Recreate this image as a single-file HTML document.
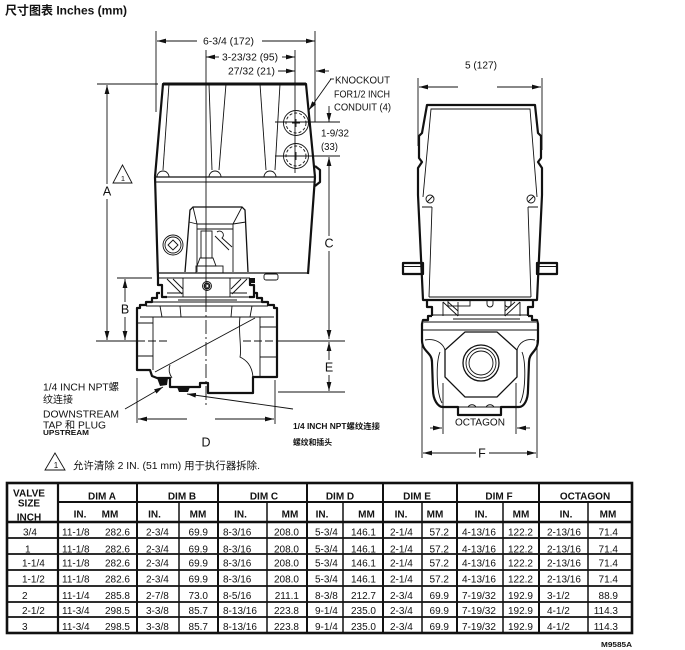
<!DOCTYPE html>
<html><head><meta charset="utf-8"><style>
html,body{margin:0;padding:0;background:#fff;}
svg{display:block;}
text{font-family:"Liberation Sans","Noto Sans CJK SC",sans-serif;fill:#111;}
.b{font-weight:bold;}
.t{stroke:#111;stroke-width:0.9;fill:none;}
.m{stroke:#111;stroke-width:1.3;fill:none;}
.k{stroke:#111;stroke-width:2.2;fill:none;stroke-linejoin:round;}
.d{stroke:#111;stroke-width:0.9;fill:none;}
</style></head><body>
<svg width="685" height="650" viewBox="0 0 685 650" xmlns="http://www.w3.org/2000/svg">
<defs>
<marker id="a" markerUnits="userSpaceOnUse" markerWidth="9" markerHeight="6" refX="9" refY="3" orient="auto" viewBox="0 0 9 6"><path d="M0,0.6 L9,3 L0,5.4z" fill="#111"/></marker>
</defs>

<!-- Title -->
<text x="5" y="14.5" class="b" font-size="12" textLength="122" lengthAdjust="spacingAndGlyphs">尺寸图表 Inches (mm)</text>

<!-- ===== LEFT DRAWING ===== -->
<!-- Top dimension lines -->
<line class="d" x1="156" y1="31" x2="156" y2="112"/>
<line class="d" x1="315" y1="31" x2="315" y2="122"/>
<line class="d" x1="197" y1="41" x2="157" y2="41" marker-end="url(#a)"/>
<line class="d" x1="262" y1="41" x2="315" y2="41" marker-end="url(#a)"/>
<text x="203" y="44.5" font-size="10" textLength="51" lengthAdjust="spacingAndGlyphs">6-3/4 (172)</text>
<line class="d" x1="295" y1="50" x2="295" y2="173"/>
<line class="d" x1="219" y1="57" x2="206" y2="57" marker-end="url(#a)"/>
<line class="d" x1="282" y1="57" x2="295" y2="57" marker-end="url(#a)"/>
<text x="222" y="60.5" font-size="10" textLength="56" lengthAdjust="spacingAndGlyphs">3-23/32 (95)</text>
<text x="228" y="74.5" font-size="10" textLength="47" lengthAdjust="spacingAndGlyphs">27/32 (21)</text>
<line class="d" x1="278" y1="71" x2="295" y2="71" marker-end="url(#a)"/>
<line class="d" x1="329" y1="71" x2="316" y2="71" marker-end="url(#a)"/>
<!-- knockout label -->
<text x="335" y="83.5" font-size="10" textLength="55" lengthAdjust="spacingAndGlyphs">KNOCKOUT</text>
<text x="334" y="97.5" font-size="10" textLength="56" lengthAdjust="spacingAndGlyphs">FOR1/2 INCH</text>
<text x="334" y="110.5" font-size="10" textLength="57" lengthAdjust="spacingAndGlyphs">CONDUIT (4)</text>
<line class="d" x1="334" y1="79" x2="330" y2="79"/>
<line class="d" x1="331" y1="79" x2="309" y2="110" marker-end="url(#a)"/>
<line class="d" x1="329" y1="106" x2="329" y2="122" marker-end="url(#a)"/>
<line class="d" x1="275" y1="122" x2="340" y2="122"/>
<line class="d" x1="275" y1="156" x2="340" y2="156"/>
<text x="321" y="136.5" font-size="10" textLength="28" lengthAdjust="spacingAndGlyphs">1-9/32</text>
<text x="321" y="150" font-size="10" textLength="17" lengthAdjust="spacingAndGlyphs">(33)</text>

<!-- Centerline vertical -->
<line class="t" x1="206" y1="50" x2="206" y2="298"/>
<line class="t" x1="206" y1="298" x2="206" y2="406" stroke-dasharray="14,3,2,3"/>

<!-- Actuator upper housing -->
<path class="k" d="M155,177 L163,84 L306,84 L315,177" stroke-width="2.4"/>
<line x1="163" y1="84" x2="306" y2="84" stroke="#111" stroke-width="3"/>
<line class="t" x1="169" y1="84" x2="163" y2="170"/>
<line class="t" x1="209" y1="84" x2="212" y2="170"/>
<line class="t" x1="226" y1="84" x2="219" y2="170"/>
<line class="t" x1="260" y1="84" x2="266" y2="170"/>
<line class="t" x1="280" y1="84" x2="275" y2="170"/>
<path class="t" d="M157,177 A6,6 0 0 1 169,177 M209,177 A6,6 0 0 1 221,177 M264,177 A6,6 0 0 1 276,177"/>
<!-- knockouts -->
<circle class="t" cx="296" cy="123" r="12.5"/>
<circle class="t" cx="296" cy="123" r="10" stroke-dasharray="3,2"/>
<circle class="t" cx="296" cy="156" r="12.5"/>
<circle class="t" cx="296" cy="156" r="10" stroke-dasharray="3,2"/>
<path class="t" d="M292,123 H300 M296,119 V127 M292,156 H300 M296,152 V160"/>
<!-- band -->
<line class="m" x1="155" y1="177" x2="315" y2="177"/>
<line class="t" x1="155.5" y1="182" x2="314.5" y2="182"/>
<path class="k" d="M315,166 L320,170 L320,182 L315,186"/>
<!-- lower box -->
<path class="k" d="M155,177 L158,278 M315,177 L308,274"/>
<line class="m" x1="158" y1="273" x2="308" y2="273"/>
<line class="t" x1="158" y1="278" x2="250" y2="278"/>
<rect x="264" y="274" width="14" height="6" rx="2" class="t"/>
<!-- window -->
<path class="m" d="M185,272 L190,210 L193,207 L242,207 L245,210 L248,272"/>
<path class="t" d="M193,207 L197,224 L233,224 L242,207 M197,224 V272 M233,224 V272 M189,222 L197,224 M246,222 L233,224 M197,229 H233"/>
<rect class="t" x="201" y="231" width="11" height="27"/>
<path class="t" d="M200,258 L213,258 L216,266 L197,266 Z" fill="#fff"/>
<rect class="t" x="196" y="266" width="27" height="7"/>
<path class="t" d="M217,232 A3.5,3.5 0 1 1 222,238 L232,247 M215,236 L229,250"/>
<!-- left knob -->
<circle class="t" cx="173" cy="245" r="10"/>
<circle class="t" cx="173" cy="245" r="8"/>
<path class="t" d="M173,240 L178,245 L173,250 L168,245 Z"/>

<!-- bracket -->
<path class="k" d="M158,278 L158,285 L162,285 L162,297 L167,297" stroke-width="1.8"/>
<path class="k" d="M250,278 L250,285 L254,285 L254,297 L249,297" stroke-width="1.8"/>
<rect x="250" y="278" width="5" height="5" fill="#111"/>
<path class="t" d="M167,279 L182,294 M173,279 L183,289 M183,278 V297 M167,293 H183 M247,279 L232,294 M241,279 L231,289 M230,278 V297 M230,293 H247 M166,297 H250 M178,300 H237"/>
<circle class="t" cx="207" cy="286" r="4.5"/>
<circle class="t" cx="207" cy="286" r="3"/>
<path class="t" d="M207,283.5 L209.5,286 L207,288.5 L204.5,286 Z"/>

<!-- valve body -->
<path class="k" d="M160,293 L157,293 L157,298 L152,298 L152,302 L146,302 L146,305 L140,305 L140,308 L137,308 L137,370 L150,370 L152,376 L157,378 L170,378 L170,387 L200,387 L200,383 L208,383 L208,393 L253,393 L253,377 L277,377 L277,308 L274,308 L274,305 L268,305 L268,302 L262,302 L262,298 L257,298 L257,293 L254,293" stroke-width="2.3"/>
<path class="t" d="M152,302 H262 M146,306 H268 M140,317 H274 M153,317 V370 M260,317 V377 M137,323 H153 M137,356 H153 M260,327 H277 M260,357 H277"/>
<path class="t" d="M160,306 L162,317 M180,306 L181,317 M232,306 L231,317 M252,306 L250,317"/>
<path class="t" d="M240,317 C238,330 242,350 240,357 C246,360 252,365 253,377 M170,365 C168,370 170,375 172,378"/>
<line class="t" x1="155" y1="372" x2="255" y2="318"/>
<path d="M157,378 L168,378 L167,385 L160,386 Z" fill="#111"/>
<path d="M177,387 L190,387 L188,392 L179,392 Z" fill="#111"/>

<!-- horizontal centerline -->
<line class="t" x1="96" y1="341" x2="137" y2="341"/>
<line class="t" x1="137" y1="341" x2="170" y2="341" stroke-dasharray="8,3"/>
<line class="t" x1="243" y1="341" x2="277" y2="341" stroke-dasharray="8,3"/>
<line class="t" x1="277" y1="341" x2="345" y2="341"/>

<!-- A dim -->
<line class="d" x1="97" y1="84" x2="158" y2="84"/>
<line class="d" x1="107" y1="184" x2="107" y2="85" marker-end="url(#a)"/>
<line class="d" x1="107" y1="199" x2="107" y2="340" marker-end="url(#a)"/>
<text x="107" y="195.5" font-size="12.5" text-anchor="middle">A</text>
<path class="t" d="M122.5,165 L113,183 L132,183 Z"/>
<text x="123" y="181" font-size="7.5" text-anchor="middle">1</text>
<!-- B dim -->
<line class="d" x1="117" y1="278" x2="152" y2="278"/>
<line class="d" x1="125" y1="302" x2="125" y2="279" marker-end="url(#a)"/>
<line class="d" x1="125" y1="317" x2="125" y2="340" marker-end="url(#a)"/>
<text x="125" y="313.5" font-size="12.5" text-anchor="middle">B</text>
<!-- C dim -->
<line class="d" x1="329" y1="236" x2="329" y2="157" marker-end="url(#a)"/>
<line class="d" x1="329" y1="251" x2="329" y2="339" marker-end="url(#a)"/>
<text x="329" y="247.5" font-size="12.5" text-anchor="middle">C</text>
<!-- E dim -->
<line class="d" x1="329" y1="360" x2="329" y2="342" marker-end="url(#a)"/>
<line class="d" x1="329" y1="375" x2="329" y2="391" marker-end="url(#a)"/>
<text x="329" y="371.5" font-size="12.5" text-anchor="middle">E</text>
<line class="d" x1="278" y1="392" x2="345" y2="392"/>
<!-- D dim -->
<line class="d" x1="137" y1="378" x2="137" y2="423"/>
<line class="d" x1="275" y1="380" x2="275" y2="424"/>
<line class="d" x1="187" y1="419" x2="138" y2="419" marker-end="url(#a)"/>
<line class="d" x1="215" y1="419" x2="274" y2="419" marker-end="url(#a)"/>
<text x="206" y="446.5" font-size="12.5" text-anchor="middle">D</text>

<!-- left labels -->
<text x="43" y="390.5" font-size="10" textLength="76" lengthAdjust="spacingAndGlyphs">1/4 INCH NPT螺</text>
<text x="43" y="403" font-size="10" textLength="30" lengthAdjust="spacingAndGlyphs">纹连接</text>
<text x="43" y="417.5" font-size="10" textLength="76" lengthAdjust="spacingAndGlyphs">DOWNSTREAM</text>
<text x="43" y="428.5" font-size="10" textLength="63" lengthAdjust="spacingAndGlyphs">TAP 和 PLUG</text>
<text x="43" y="435" class="b" font-size="7.5" textLength="46" lengthAdjust="spacingAndGlyphs">UPSTREAM</text>
<line class="d" x1="125" y1="409" x2="163" y2="387" marker-end="url(#a)"/>
<!-- right label -->
<text x="293" y="429" class="b" font-size="8" textLength="87" lengthAdjust="spacingAndGlyphs">1/4 INCH NPT螺纹连接</text>
<text x="293" y="445" class="b" font-size="8" textLength="39" lengthAdjust="spacingAndGlyphs">螺纹和插头</text>
<line class="d" x1="293" y1="409" x2="187" y2="394" marker-end="url(#a)"/>

<!-- note -->
<path class="t" d="M55,453 L45,470 L65,470 Z"/>
<text x="56" y="468" font-size="8" text-anchor="middle">1</text>
<text x="73" y="469" font-size="10.5" textLength="187" lengthAdjust="spacingAndGlyphs">允许清除 2 IN. (51 mm) 用于执行器拆除.</text>

<!-- ===== RIGHT DRAWING ===== -->
<text x="465" y="68.5" font-size="10" textLength="32" lengthAdjust="spacingAndGlyphs">5 (127)</text>
<line class="d" x1="418" y1="78" x2="418" y2="146"/>
<line class="d" x1="542" y1="78" x2="542" y2="150"/>
<line class="d" x1="458" y1="87" x2="419" y2="87" marker-end="url(#a)"/>
<line class="d" x1="497" y1="87" x2="541" y2="87" marker-end="url(#a)"/>
<!-- actuator -->
<path class="k" d="M427,105 L535,105 L538,133 L541,136 L541,158 L538,162 L542,168 L542,195 L537,300 L423,300 L418,195 L418,168 L422,162 L419,158 L419,136 L422,133 Z"/>
<path class="t" d="M423,197 L431,109 L530,109 L537,197 M422,207 H432 M528,207 H538 M432,207 L429,297 M528,207 L531,297 M429,297 H531"/>
<circle class="t" cx="430" cy="199" r="4"/>
<circle class="t" cx="531" cy="199" r="4"/>
<path class="t" d="M427,202 L433,196 M528,202 L534,196"/>
<!-- tabs -->
<rect class="k" x="403" y="263" width="20" height="11" stroke-width="1.8"/>
<rect class="k" x="537" y="263" width="20" height="11" stroke-width="1.8"/>
<path class="t" d="M403,266.5 H423 M537,266.5 H557"/>
<!-- bracket -->
<path class="k" d="M427,300 L427,307 L432,307 L432,316 M533,300 L533,307 L528,307 L528,316" stroke-width="1.8"/>
<rect class="t" x="448" y="300" width="22" height="6"/>
<path class="t" d="M487,300 V304 A3,3 0 0 0 493,304 V300 M505,300 V304 A3,3 0 0 0 511,304 V300"/>
<path class="t" d="M443,302 L458,316 M448,302 L458,311 M443,302 V316 M458,302 V316 M520,302 L505,316 M515,302 L505,311 M520,302 V316 M505,302 V316 M433,315 H527 M453,319 H520"/>
<!-- valve -->
<path class="k" d="M432,316 L428,316 L428,320 L423,320 L422,324 L422,340 C422,352 432,352 432,362 L433,390 C433,400 438,407 443,407 L458,407 L458,415 L501,415 L501,407 L519,407 C524,407 528,400 528,390 L529,362 C529,352 538,352 538,340 L538,324 L537,320 L532,320 L532,316 L528,316"/>
<path class="t" d="M424,322 H536 M423,330 H537"/>
<path class="t" d="M425,340 C435,338 443,343 445,350 M535,340 C525,338 519,343 517,350 M440,352 C436,362 436,392 442,403 M522,352 C526,362 526,392 520,403 M458,407 H501 M468,407 C470,404 474,404 476,407 M486,407 C488,404 492,404 494,407"/>
<polygon class="m" points="465,332 497,332 517,350 517,377 497,397 465,397 445,377 445,350"/>
<circle class="m" cx="481" cy="363" r="18"/>
<circle class="t" cx="481" cy="363" r="15"/>
<circle class="t" cx="481" cy="363" r="12"/>
<!-- octagon dim -->
<line class="d" x1="443" y1="383" x2="443" y2="434"/>
<line class="d" x1="516" y1="383" x2="516" y2="434"/>
<text x="455" y="425.5" font-size="10" textLength="50" lengthAdjust="spacingAndGlyphs">OCTAGON</text>
<line class="d" x1="430" y1="428" x2="442" y2="428" marker-end="url(#a)"/>
<line class="d" x1="530" y1="428" x2="517" y2="428" marker-end="url(#a)"/>
<!-- F dim -->
<line class="d" x1="422" y1="340" x2="422" y2="458"/>
<line class="d" x1="537" y1="340" x2="537" y2="458"/>
<line class="d" x1="476" y1="453" x2="423" y2="453" marker-end="url(#a)"/>
<line class="d" x1="489" y1="453" x2="536" y2="453" marker-end="url(#a)"/>
<text x="482" y="457.5" font-size="12.5" text-anchor="middle">F</text>

<!-- ===== TABLE ===== -->
<g stroke="#111" fill="none">
<rect x="7" y="483" width="625" height="150" stroke-width="2.6"/>
<line x1="58" y1="502" x2="632" y2="502" stroke-width="2"/>
<line x1="7" y1="522" x2="632" y2="522" stroke-width="2.4"/>
<line x1="7" y1="538" x2="632" y2="538" stroke-width="1.7"/>
<line x1="7" y1="554" x2="632" y2="554" stroke-width="1.7"/>
<line x1="7" y1="570" x2="632" y2="570" stroke-width="1.7"/>
<line x1="7" y1="586" x2="632" y2="586" stroke-width="1.7"/>
<line x1="7" y1="602" x2="632" y2="602" stroke-width="1.7"/>
<line x1="7" y1="617" x2="632" y2="617" stroke-width="1.7"/>
<line x1="58" y1="483" x2="58" y2="633" stroke-width="2.2"/>
<line x1="137" y1="483" x2="137" y2="633" stroke-width="2"/>
<line x1="218" y1="483" x2="218" y2="633" stroke-width="2"/>
<line x1="307" y1="483" x2="307" y2="633" stroke-width="2"/>
<line x1="383" y1="483" x2="383" y2="633" stroke-width="2"/>
<line x1="457" y1="483" x2="457" y2="633" stroke-width="2"/>
<line x1="539" y1="483" x2="539" y2="633" stroke-width="2"/>
<line x1="179" y1="502" x2="179" y2="633" stroke-width="1.5"/>
<line x1="267" y1="502" x2="267" y2="633" stroke-width="1.5"/>
<line x1="343" y1="502" x2="343" y2="633" stroke-width="1.5"/>
<line x1="422" y1="502" x2="422" y2="633" stroke-width="1.5"/>
<line x1="503" y1="502" x2="503" y2="633" stroke-width="1.5"/>
<line x1="588" y1="502" x2="588" y2="633" stroke-width="1.5"/>
</g>
<g class="b" font-size="10" text-anchor="middle">
<text x="29" y="496.5" textLength="32" lengthAdjust="spacingAndGlyphs">VALVE</text>
<text x="29" y="506.5">SIZE</text>
<text x="29" y="520.5">INCH</text>
<text x="102" y="499.5">DIM A</text>
<text x="182" y="499.5">DIM B</text>
<text x="264" y="499.5">DIM C</text>
<text x="340" y="499.5">DIM D</text>
<text x="417" y="499.5">DIM E</text>
<text x="499" y="499.5">DIM F</text>
<text x="585" y="499.5">OCTAGON</text>
<text x="80" y="517.5">IN.</text><text x="110" y="517.5">MM</text>
<text x="154.5" y="517.5">IN.</text><text x="198" y="517.5">MM</text>
<text x="240.5" y="517.5">IN.</text><text x="290" y="517.5">MM</text>
<text x="322" y="517.5">IN.</text><text x="366.5" y="517.5">MM</text>
<text x="401" y="517.5">IN.</text><text x="435" y="517.5">MM</text>
<text x="481" y="517.5">IN.</text><text x="521" y="517.5">MM</text>
<text x="566" y="517.5">IN.</text><text x="608" y="517.5">MM</text>
</g>
<g font-size="10">
<!-- valve size -->
<text x="23" y="535.5">3/4</text>
<text x="25" y="552.5">1</text>
<text x="22" y="566.5">1-1/4</text>
<text x="22" y="582.5">1-1/2</text>
<text x="22" y="599">2</text>
<text x="22" y="614">2-1/2</text>
<text x="22" y="630">3</text>
<!-- IN columns (start) -->
<text x="62" y="535.5">11-1/8</text><text x="146" y="535.5">2-3/4</text><text x="223" y="535.5">8-3/16</text><text x="315" y="535.5">5-3/4</text><text x="390" y="535.5">2-1/4</text><text x="462" y="535.5">4-13/16</text><text x="547" y="535.5">2-13/16</text>
<text x="62" y="552.5">11-1/8</text><text x="146" y="552.5">2-3/4</text><text x="223" y="552.5">8-3/16</text><text x="315" y="552.5">5-3/4</text><text x="390" y="552.5">2-1/4</text><text x="462" y="552.5">4-13/16</text><text x="547" y="552.5">2-13/16</text>
<text x="62" y="566.5">11-1/8</text><text x="146" y="566.5">2-3/4</text><text x="223" y="566.5">8-3/16</text><text x="315" y="566.5">5-3/4</text><text x="390" y="566.5">2-1/4</text><text x="462" y="566.5">4-13/16</text><text x="547" y="566.5">2-13/16</text>
<text x="62" y="582.5">11-1/8</text><text x="146" y="582.5">2-3/4</text><text x="223" y="582.5">8-3/16</text><text x="315" y="582.5">5-3/4</text><text x="390" y="582.5">2-1/4</text><text x="462" y="582.5">4-13/16</text><text x="547" y="582.5">2-13/16</text>
<text x="62" y="599">11-1/4</text><text x="146" y="599">2-7/8</text><text x="223" y="599">8-5/16</text><text x="315" y="599">8-3/8</text><text x="390" y="599">2-3/4</text><text x="462" y="599">7-19/32</text><text x="547" y="599">3-1/2</text>
<text x="62" y="614">11-3/4</text><text x="146" y="614">3-3/8</text><text x="223" y="614">8-13/16</text><text x="315" y="614">9-1/4</text><text x="390" y="614">2-3/4</text><text x="462" y="614">7-19/32</text><text x="547" y="614">4-1/2</text>
<text x="62" y="630">11-3/4</text><text x="146" y="630">3-3/8</text><text x="223" y="630">8-13/16</text><text x="315" y="630">9-1/4</text><text x="390" y="630">2-3/4</text><text x="462" y="630">7-19/32</text><text x="547" y="630">4-1/2</text>
</g>
<g font-size="10" text-anchor="end">
<text x="130" y="535.5">282.6</text><text x="208" y="535.5">69.9</text><text x="299" y="535.5">208.0</text><text x="376" y="535.5">146.1</text><text x="449" y="535.5">57.2</text><text x="533" y="535.5">122.2</text><text x="618" y="535.5">71.4</text>
<text x="130" y="552.5">282.6</text><text x="208" y="552.5">69.9</text><text x="299" y="552.5">208.0</text><text x="376" y="552.5">146.1</text><text x="449" y="552.5">57.2</text><text x="533" y="552.5">122.2</text><text x="618" y="552.5">71.4</text>
<text x="130" y="566.5">282.6</text><text x="208" y="566.5">69.9</text><text x="299" y="566.5">208.0</text><text x="376" y="566.5">146.1</text><text x="449" y="566.5">57.2</text><text x="533" y="566.5">122.2</text><text x="618" y="566.5">71.4</text>
<text x="130" y="582.5">282.6</text><text x="208" y="582.5">69.9</text><text x="299" y="582.5">208.0</text><text x="376" y="582.5">146.1</text><text x="449" y="582.5">57.2</text><text x="533" y="582.5">122.2</text><text x="618" y="582.5">71.4</text>
<text x="130" y="599">285.8</text><text x="208" y="599">73.0</text><text x="299" y="599">211.1</text><text x="376" y="599">212.7</text><text x="449" y="599">69.9</text><text x="533" y="599">192.9</text><text x="618" y="599">88.9</text>
<text x="130" y="614">298.5</text><text x="208" y="614">85.7</text><text x="299" y="614">223.8</text><text x="376" y="614">235.0</text><text x="449" y="614">69.9</text><text x="533" y="614">192.9</text><text x="618" y="614">114.3</text>
<text x="130" y="630">298.5</text><text x="208" y="630">85.7</text><text x="299" y="630">223.8</text><text x="376" y="630">235.0</text><text x="449" y="630">69.9</text><text x="533" y="630">192.9</text><text x="618" y="630">114.3</text>
</g>
<text x="601" y="647" class="b" font-size="7.5" textLength="31" lengthAdjust="spacingAndGlyphs">M9585A</text>
</svg>
</body></html>
